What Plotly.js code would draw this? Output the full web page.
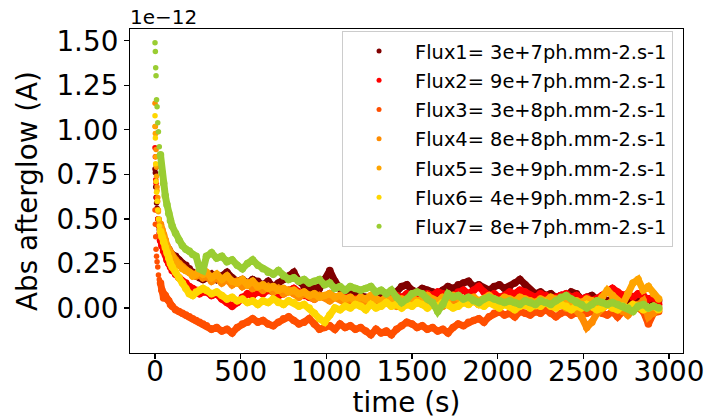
<!DOCTYPE html>
<html>
<head>
<meta charset="utf-8">
<script src="https://cdn.plot.ly/plotly-3.0.1.min.js"></script>
<style>html,body{margin:0;padding:0;background:#fff;}#chart{width:712px;height:419px;}</style>
</head>
<body>
<div id="chart"></div>
<script>
// Values in units of 1e-12 A
const seriesNames = [
  "Flux1= 3e+7ph.mm-2.s-1",
  "Flux2= 9e+7ph.mm-2.s-1",
  "Flux3= 3e+8ph.mm-2.s-1",
  "Flux4= 8e+8ph.mm-2.s-1",
  "Flux5= 3e+9ph.mm-2.s-1",
  "Flux6= 4e+9ph.mm-2.s-1",
  "Flux7= 8e+7ph.mm-2.s-1"
];
const seriesColors = ["#800000", "#ff0000", "#ff4f00", "#ff8c00", "#ffa500", "#ffd700", "#9acd32"];

const earlyTime = [0,2,4,6,9,12,16,20,25,32,40,50,60,70,80,90,100,120,140,160,180,200,220,240,260,280];
const tailTime = [300,330,360,390,420,450,480,510,540,570,
  600,630,660,690,720,750,780,810,840,870,
  900,930,960,990,1020,1050,1080,1110,1140,1170,
  1200,1230,1260,1290,1320,1350,1380,1410,1440,1470,
  1500,1530,1560,1590,1620,1650,1680,1710,1740,1770,
  1800,1830,1860,1890,1920,1950,1980,2010,2040,2070,
  2100,2130,2160,2190,2220,2250,2280,2310,2340,2370,
  2400,2430,2460,2490,2520,2550,2580,2610,2640,2670,
  2700,2730,2760,2790,2820,2850,2880,2910,2940];

const flux1Early = [0.78,0.76,0.68,0.62,0.59,0.56,0.50,0.46,0.44,0.42,0.40,0.38,0.36,0.34,0.33,0.31,0.30,0.29,0.27,0.25,0.24,0.22,0.20,0.18,0.17,0.16];
const flux1Tail = [0.17,0.19,0.16,0.18,0.20,0.17,0.15,0.16,0.14,0.16,
  0.15,0.13,0.15,0.12,0.14,0.16,0.18,0.20,0.15,0.12,
  0.10,0.12,0.11,0.16,0.21,0.15,0.11,0.09,0.10,0.08,
  0.07,0.06,0.05,0.07,0.06,0.08,0.07,0.09,0.12,0.13,
  0.10,0.09,0.11,0.10,0.09,0.08,0.10,0.12,0.11,0.13,
  0.14,0.15,0.12,0.13,0.11,0.10,0.12,0.13,0.11,0.12,
  0.14,0.16,0.13,0.10,0.08,0.09,0.07,0.08,0.06,0.07,
  0.05,0.09,0.08,0.05,0.06,0.07,0.05,0.06,0.04,0.05,
  0.06,0.05,0.04,0.06,0.05,0.04,0.05,0.03,0.04];

const flux2Early = [0.90,0.85,0.72,0.70,0.62,0.55,0.50,0.46,0.42,0.38,0.35,0.32,0.30,0.27,0.25,0.23,0.21,0.19,0.17,0.15,0.14,0.12,0.11,0.10,0.08,0.09];
const flux2Tail = [0.09,0.07,0.08,0.05,0.03,0.01,0.03,0.06,0.08,0.07,
  0.09,0.08,0.10,0.09,0.07,0.08,0.10,0.11,0.09,0.07,
  0.06,0.05,0.07,0.06,0.08,0.06,0.05,0.06,0.04,0.05,
  0.03,0.04,0.06,0.05,0.04,0.06,0.05,0.07,0.06,0.08,
  0.07,0.05,0.06,0.08,0.07,0.09,0.08,0.06,0.07,0.09,
  0.10,0.08,0.10,0.12,0.09,0.07,0.08,0.06,0.07,0.09,
  0.08,0.10,0.09,0.07,0.06,0.08,0.07,0.05,0.06,0.07,
  0.08,0.06,0.07,0.05,0.06,0.04,0.05,0.07,0.09,0.11,
  0.09,0.07,0.08,0.06,0.08,0.07,0.05,0.06,0.02];

const flux3Early = [0.55,0.47,0.40,0.33,0.29,0.26,0.23,0.185,0.16,0.14,0.10,0.056,0.07,0.05,0.04,0.02,0.01,-0.01,-0.02,-0.03,-0.04,-0.05,-0.06,-0.07,-0.08,-0.09];
const flux3Tail = [-0.10,-0.12,-0.11,-0.13,-0.12,-0.14,-0.11,-0.09,-0.08,-0.06,
  -0.08,-0.07,-0.09,-0.10,-0.08,-0.06,-0.05,-0.07,-0.09,-0.08,
  -0.06,-0.09,-0.12,-0.11,-0.10,-0.12,-0.09,-0.11,-0.10,-0.12,
  -0.11,-0.13,-0.15,-0.12,-0.14,-0.13,-0.15,-0.12,-0.10,-0.08,
  -0.09,-0.11,-0.10,-0.12,-0.11,-0.13,-0.12,-0.14,-0.11,-0.09,
  -0.10,-0.08,-0.07,-0.06,-0.08,-0.05,-0.03,-0.02,-0.04,-0.03,
  -0.05,-0.02,-0.03,-0.04,-0.02,-0.03,-0.01,-0.03,-0.05,-0.03,
  -0.02,-0.04,-0.03,-0.01,-0.03,-0.02,-0.01,-0.03,-0.04,-0.02,
  -0.05,-0.02,-0.03,-0.01,0.00,-0.02,-0.09,-0.03,-0.02];

const flux4Early = [1.15,1.02,0.98,0.89,0.79,0.68,0.62,0.55,0.50,0.47,0.44,0.41,0.38,0.35,0.33,0.31,0.29,0.27,0.25,0.23,0.21,0.20,0.19,0.18,0.19,0.17];
const flux4Tail = [0.18,0.15,0.17,0.14,0.16,0.13,0.15,0.12,0.14,0.11,
  0.12,0.10,0.12,0.09,0.11,0.08,0.10,0.08,0.06,0.08,
  0.07,0.05,0.07,0.06,0.04,0.06,0.05,0.03,0.05,0.04,
  0.02,0.04,0.03,0.05,0.02,0.04,0.03,0.01,0.03,0.02,
  0.04,0.03,0.05,0.02,0.04,0.03,0.01,0.03,0.04,0.02,
  0.05,0.03,0.04,0.02,0.03,0.05,0.04,0.02,0.03,0.01,
  0.03,0.04,0.02,0.03,0.01,0.02,0.04,0.03,0.01,0.02,
  0.00,0.02,-0.01,-0.05,-0.11,-0.08,-0.03,0.00,0.02,0.04,
  0.01,-0.02,-0.04,-0.01,0.02,0.04,-0.05,-0.03,0.00];

const flux5Early = [1.02,0.98,0.85,0.80,0.74,0.66,0.60,0.54,0.49,0.45,0.42,0.39,0.37,0.34,0.32,0.30,0.28,0.26,0.24,0.22,0.21,0.20,0.18,0.19,0.21,0.19];
const flux5Tail = [0.20,0.17,0.19,0.16,0.18,0.15,0.14,0.16,0.13,0.15,
  0.12,0.13,0.11,0.12,0.10,0.11,0.09,0.10,0.08,0.09,
  0.07,0.08,0.06,0.07,0.08,0.06,0.07,0.05,0.06,0.04,
  0.06,0.05,0.07,0.05,0.04,0.06,0.05,0.03,0.05,0.04,
  0.06,0.04,0.05,0.07,0.05,0.04,0.06,0.05,0.07,0.06,
  0.04,0.05,0.06,0.04,0.05,0.07,0.05,0.04,0.06,0.05,
  0.04,0.06,0.05,0.04,0.03,0.05,0.04,0.06,0.05,0.03,
  0.04,0.02,0.04,0.03,0.05,0.04,0.03,0.06,0.10,0.07,
  0.04,0.02,0.08,0.14,0.16,0.10,0.12,0.08,0.05];

const flux6Early = [1.08,0.955,0.81,0.71,0.65,0.60,0.55,0.50,0.46,0.43,0.40,0.37,0.34,0.31,0.28,0.25,0.23,0.20,0.17,0.14,0.11,0.08,0.07,0.09,0.10,0.11];
const flux6Tail = [0.10,0.08,0.09,0.07,0.05,0.06,0.04,0.05,0.03,0.04,
  0.02,0.04,0.03,0.05,0.03,0.02,0.04,0.03,0.01,0.02,
  0.00,-0.03,-0.06,-0.08,-0.04,0.00,-0.01,0.01,0.00,0.02,
  0.01,-0.01,0.02,0.00,0.01,0.03,0.01,0.02,0.00,0.02,
  0.01,0.03,0.02,0.00,0.02,0.01,0.03,0.02,0.00,0.01,
  0.03,0.02,0.04,0.02,0.01,0.03,0.02,0.00,0.02,0.01,
  -0.01,0.01,0.02,0.00,0.02,0.01,0.03,0.01,0.00,0.02,
  0.01,-0.01,0.01,0.00,0.02,0.01,-0.01,0.00,0.02,0.00,
  -0.01,0.01,0.00,0.02,0.01,-0.01,0.00,0.01,-0.01];

const flux7Early = [1.49,1.44,1.35,1.305,1.17,1.13,1.04,0.99,0.905,0.86,0.76,0.70,0.63,0.58,0.53,0.49,0.46,0.42,0.38,0.35,0.33,0.32,0.30,0.29,0.22,0.21];
const flux7Tail = [0.29,0.31,0.28,0.29,0.26,0.27,0.24,0.22,0.25,0.27,
  0.24,0.22,0.20,0.19,0.21,0.18,0.16,0.17,0.15,0.16,
  0.14,0.15,0.16,0.13,0.14,0.11,0.12,0.10,0.12,0.11,
  0.10,0.11,0.12,0.09,0.10,0.08,0.10,0.06,0.03,0.05,
  0.08,0.09,0.08,0.05,0.03,-0.02,0.02,0.08,0.06,0.07,
  0.05,0.06,0.04,0.03,0.05,0.06,0.05,0.04,0.03,0.04,
  0.03,0.02,0.04,0.03,0.02,0.04,0.03,0.02,0.04,0.06,
  0.07,0.05,0.03,0.02,0.00,0.02,0.04,0.03,0.02,0.03,
  0.02,0.01,0.00,-0.02,0.01,0.02,0.00,0.01,0.00];

const yTickVals = [0, 0.25, 0.5, 0.75, 1.0, 1.25, 1.5];
const xTickVals = [0, 500, 1000, 1500, 2000, 2500, 3000];

const earlyAll = [flux1Early, flux2Early, flux3Early, flux4Early, flux5Early, flux6Early, flux7Early];
const tailAll = [flux1Tail, flux2Tail, flux3Tail, flux4Tail, flux5Tail, flux6Tail, flux7Tail];
const allTime = earlyTime.concat(tailTime);
const SPLIT = 9; // first samples drawn as separate dots, rest as a dense band

const FONT = "DejaVu Sans, Verdana, sans-serif";
const traces = [];
for (let i = 0; i < 7; i++) {
  const ys = earlyAll[i].concat(tailAll[i]);
  traces.push({
    type: "scatter", mode: "markers",
    x: allTime.slice(0, SPLIT + 1), y: ys.slice(0, SPLIT + 1),
    marker: {color: seriesColors[i], size: 5.5, line: {width: 0}},
    showlegend: false, hoverinfo: "skip"
  });
  traces.push({
    type: "scatter", mode: "lines+markers",
    x: allTime.slice(SPLIT), y: ys.slice(SPLIT),
    line: {color: seriesColors[i], width: 7},
    marker: {color: seriesColors[i], size: 7.5, line: {width: 0}},
    showlegend: false, hoverinfo: "skip"
  });
}
for (let i = 0; i < 7; i++) {
  traces.push({
    type: "scatter", mode: "markers",
    x: [null], y: [null], name: seriesNames[i], legendgroup: "g" + i,
    marker: {color: seriesColors[i], size: 5, line: {width: 0}},
    showlegend: true
  });
}

const layout = {
  width: 712, height: 419,
  margin: {l: 130, r: 29, t: 29, b: 66},
  paper_bgcolor: "#ffffff", plot_bgcolor: "#ffffff",
  font: {family: FONT, color: "#000000", size: 20},
  xaxis: {
    range: [-146, 3082], tickvals: xTickVals, ticktext: xTickVals.map(String),
    showgrid: false, zeroline: false,
    showline: true, linecolor: "#000000", linewidth: 1.1, mirror: true,
    ticks: "outside", ticklen: 5, tickwidth: 1.1, tickcolor: "#000000",
    ticklabelstandoff: -11,
    tickfont: {family: FONT, size: 27.8, color: "#000000"},
    title: {text: "time (s)", font: {family: FONT, size: 27.8, color: "#000000"}, standoff: 8}
  },
  yaxis: {
    range: [-0.253, 1.567], tickvals: yTickVals, tickformat: ".2f",
    showgrid: false, zeroline: false,
    showline: true, linecolor: "#000000", linewidth: 1.1, mirror: true,
    ticks: "outside", ticklen: 5, tickwidth: 1.1, tickcolor: "#000000",
    tickfont: {family: FONT, size: 27.8, color: "#000000"},
    title: {text: "Abs afterglow (A)", font: {family: FONT, size: 27.8, color: "#000000"}, standoff: 10}
  },
  legend: {
    x: 0.982, y: 0.994, xanchor: "right", yanchor: "top",
    bgcolor: "rgba(255,255,255,0.8)", bordercolor: "#cccccc", borderwidth: 1,
    font: {family: FONT, size: 19.4, color: "#000000"},
    traceorder: "grouped", tracegroupgap: 1, itemwidth: 62
  },
  annotations: [{
    xref: "paper", yref: "paper", x: 0, y: 1, xanchor: "left", yanchor: "bottom",
    text: "1e\u221212", showarrow: false, font: {family: FONT, size: 20, color: "#000000"}, yshift: -2, xshift: -2
  }]
};

Plotly.newPlot("chart", traces, layout, {displayModeBar: false, staticPlot: true});
</script>
</body>
</html>
